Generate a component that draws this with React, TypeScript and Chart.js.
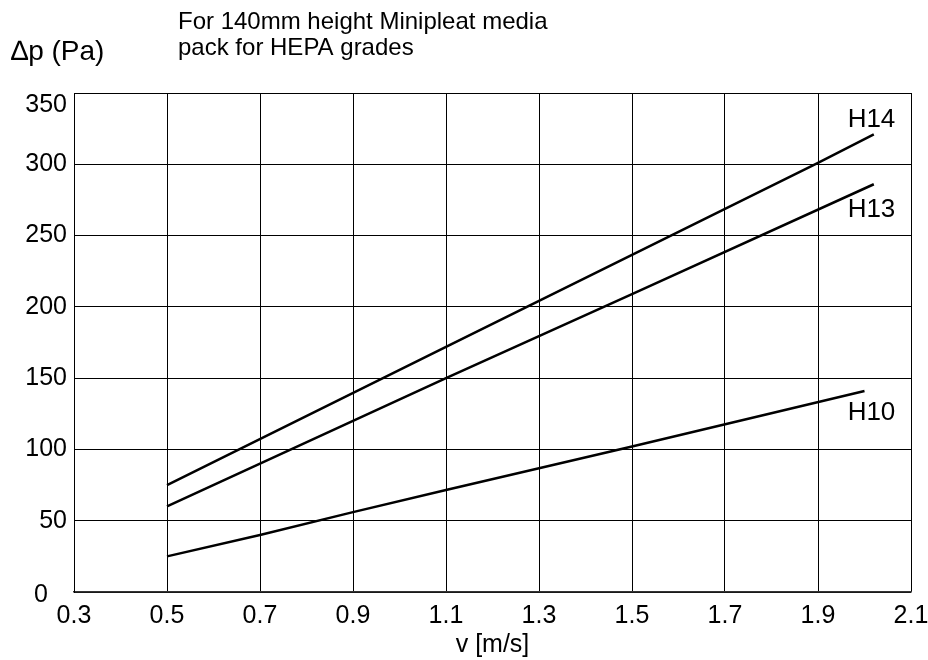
import React, { useEffect, useRef } from "react";
import { Chart, registerables } from "chart.js";

Chart.register(...registerables);

const xTickValues = [0.3, 0.5, 0.7, 0.9, 1.1, 1.3, 1.5, 1.7, 1.9, 2.1];
const yTickValues = [0, 50, 100, 150, 200, 250, 300, 350];

const h14X = [0.5, 1.1, 1.9, 2.02];
const h14Y = [75, 172, 301, 321];
const h13X = [0.5, 1.1, 1.5, 2.02];
const h13Y = [60, 150, 209, 286];
const h10X = [0.5, 0.7, 0.9, 1.1, 1.5, 2.0];
const h10Y = [25, 40, 56, 71.5, 102, 141];

const seriesNames = ["H14", "H13", "H10"];
const labelAnchorsX = [2.015, 2.015, 2.015];
const labelAnchorsY = [331, 268, 126];

const titleLines = ["For 140mm height Minipleat media", "pack for HEPA grades"];
const yUnitLabel = "\u2206p (Pa)";
const xAxisTitle = "v [m/s]";

const FONT = "'Liberation Sans', Arial, sans-serif";

function toPoints(xs: number[], ys: number[]) {
  return xs.map((x, i) => ({ x, y: ys[i] }));
}

const textPlugin = {
  id: "textPlugin",
  afterDraw(chart: any) {
    const ctx = chart.ctx;
    const xs = chart.scales.x;
    const ys = chart.scales.y;
    ctx.save();
    ctx.fillStyle = "#000";
    ctx.textBaseline = "alphabetic";
    ctx.textAlign = "left";
    ctx.font = `24px ${FONT}`;
    ctx.fillText(titleLines[0], 178, 29);
    ctx.fillText(titleLines[1], 178, 55);
    ctx.font = `28px ${FONT}`;
    ctx.fillText(yUnitLabel, 11, 60);
    // end-point tick labels that sit off their grid lines in the original
    ctx.font = `25px ${FONT}`;
    ctx.textBaseline = "middle";
    ctx.textAlign = "right";
    ctx.fillText(String(yTickValues[yTickValues.length - 1]), ys.left + ys.width - 7, ys.getPixelForValue(350) + 12);
    ctx.fillText(String(yTickValues[0]), 48, ys.getPixelForValue(0) + 3);
    ctx.font = `26px ${FONT}`;
    ctx.textAlign = "center";
    seriesNames.forEach((n, i) => {
      ctx.fillText(n, xs.getPixelForValue(labelAnchorsX[i]), ys.getPixelForValue(labelAnchorsY[i]));
    });
    ctx.restore();
  },
};

export default function App() {
  const ref = useRef<HTMLCanvasElement>(null);
  useEffect(() => {
    document.body.style.margin = "0";
    const lineStyle = {
      borderColor: "#000",
      borderWidth: 2.5,
      pointRadius: 0,
      showLine: true,
      fill: false,
      tension: 0,
    };
    const chart = new Chart(ref.current!, {
      type: "scatter",
      data: {
        datasets: [
          { label: seriesNames[0], data: toPoints(h14X, h14Y), ...lineStyle },
          { label: seriesNames[1], data: toPoints(h13X, h13Y), ...lineStyle },
          { label: seriesNames[2], data: toPoints(h10X, h10Y), ...lineStyle },
        ],
      },
      options: {
        responsive: false,
        animation: false,
        layout: { padding: { left: 0, right: 17, top: 93, bottom: 0 } },
        plugins: { legend: { display: false }, tooltip: { enabled: false } },
        scales: {
          x: {
            type: "linear",
            min: 0.3,
            max: 2.1,
            afterBuildTicks: (s: any) => {
              s.ticks = xTickValues.map((v) => ({ value: v }));
            },
            afterFit: (s: any) => {
              s.height = 68;
              s.paddingLeft = 0;
              s.paddingRight = 0;
            },
            grid: { color: "#000", lineWidth: 1, drawTicks: false },
            border: { color: "#333", width: 1.5 },
            ticks: {
              color: "#000",
              padding: 9,
              maxRotation: 0,
              font: { family: FONT, size: 25 },
              callback: (v: any) => Number(v).toFixed(1),
            },
            title: {
              display: true,
              text: xAxisTitle,
              color: "#000",
              font: { family: FONT, size: 25 },
              padding: { top: 0, bottom: 0 },
            },
          },
          y: {
            type: "linear",
            min: 0,
            max: 350,
            afterBuildTicks: (s: any) => {
              s.ticks = yTickValues.map((v) => ({ value: v }));
            },
            afterFit: (s: any) => {
              s.width = 74;
              s.paddingTop = 0;
              s.paddingBottom = 0;
            },
            grid: { color: "#000", lineWidth: 1, drawTicks: false },
            border: { color: "#000", width: 1 },
            ticks: {
              color: "#000",
              padding: 7,
              font: { family: FONT, size: 25 },
              callback: (v: any) => (v === 0 || v === 350 ? "" : String(v)),
            },
          },
        },
      },
      plugins: [textPlugin],
    });
    return () => chart.destroy();
  }, []);
  return (
    <div style={{ width: 928, height: 660, background: "#fff" }}>
      <canvas ref={ref} width={928} height={660} />
    </div>
  );
}
